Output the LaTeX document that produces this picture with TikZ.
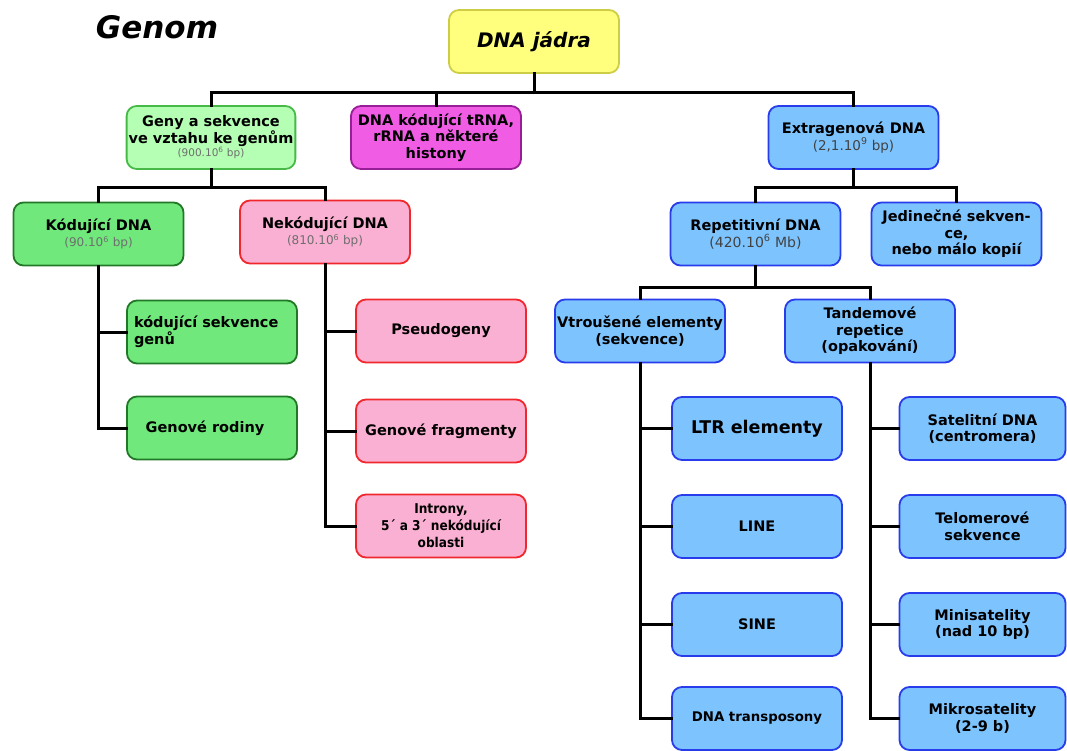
\documentclass[tikz,border=0pt]{standalone}
\usepackage{fontspec}
\setmainfont{DejaVu Sans}
\newfontfamily\uzke{DejaVu Sans Condensed}
\usepackage{tikz}
\usetikzlibrary{positioning, calc}
\definecolor{zlutaF}{RGB}{255,255,125}
\definecolor{zlutaD}{RGB}{205,205,70}
\definecolor{svzelF}{RGB}{180,255,180}
\definecolor{svzelD}{RGB}{70,185,70}
\definecolor{zelF}{RGB}{112,232,124}
\definecolor{zelD}{RGB}{35,120,40}
\definecolor{fialF}{RGB}{240,92,228}
\definecolor{fialD}{RGB}{150,30,150}
\definecolor{ruzF}{RGB}{250,176,210}
\definecolor{ruzD}{RGB}{240,40,45}
\definecolor{modF}{RGB}{125,196,255}
\definecolor{modD}{RGB}{40,60,235}
\definecolor{sedy}{RGB}{110,110,110}

\begin{document}
\begin{tikzpicture}[x=1pt,y=-1pt,
  box/.style={draw, rounded corners=10pt, line width=1.8pt, minimum width=170pt, minimum height=63pt, inner sep=2pt, align=center, font=\fontsize{14.5}{16.5}\selectfont\bfseries},
  zluta/.style={box, fill=zlutaF, draw=zlutaD},
  svzel/.style={box, fill=svzelF, draw=svzelD},
  zel/.style={box, fill=zelF, draw=zelD},
  fial/.style={box, fill=fialF, draw=fialD},
  ruz/.style={box, fill=ruzF, draw=ruzD},
  modr/.style={box, fill=modF, draw=modD},
  vetev/.style={line width=3pt, line cap=rect}]

\useasboundingbox (0,0) rectangle (1067,751);

\node[font=\fontsize{31}{34}\selectfont\bfseries\itshape] (genom) at (157,27) {Genom};

\node[zluta, font=\fontsize{20}{22}\selectfont\bfseries\itshape] (jadra) at (534,41.5) {DNA jádra};

\node[svzel, minimum width=166pt] (geny) at (211,137.5) {Geny a sekvence\\ve vztahu ke genům\\[-3pt]{\fontsize{10.5}{11}\selectfont\mdseries\color{sedy}(900.10\textsuperscript{6} bp)}};
\node[fial] (trna) at (436,137.5) {DNA kódující tRNA,\\rRNA a některé\\histony};
\node[modr] (extra) at (853.5,137.5) {Extragenová DNA\\{\fontsize{13.5}{15}\selectfont\mdseries\color{sedy!60!black}(2,1.10\textsuperscript{9} bp)}};

\node[zel] (kod) at (98.5,234) {Kódující DNA\\{\fontsize{12}{13}\selectfont\mdseries\color{sedy}(90.10\textsuperscript{6} bp)}};
\node[ruz] (nekod) at (325,232) {Nekódující DNA\\{\fontsize{12}{13}\selectfont\mdseries\color{sedy}(810.10\textsuperscript{6} bp)}};

\node[zel, align=left, text width=156pt] (sekv) at (212,332) {kódující sekvence\\genů};
\node[zel] (rodiny) at (212,428) {Genové rodiny\hspace*{14pt}};

\node[ruz] (pseudo) at (441,331) {Pseudogeny};
\node[ruz] (fragm) at (441,431) {Genové fragmenty};
\node[ruz, font=\uzke\fontsize{13.5}{17}\selectfont\bfseries] (intr) at (441,526) {Introny,\\5´ a 3´ nekódující\\oblasti};

\node[modr] (repet) at (755.5,234) {Repetitivní DNA\\{\fontsize{14}{15}\selectfont\mdseries\color{sedy!60!black}(420.10\textsuperscript{6} Mb)}};
\node[modr] (jedin) at (956.5,234) {Jedinečné sekven-\\ce,\\nebo málo kopií};

\node[modr] (vtrou) at (640,331) {Vtroušené elementy\\(sekvence)};
\node[modr] (tand) at (870,331) {Tandemové\\repetice\\(opakování)};

\node[modr, font=\fontsize{17.5}{19}\selectfont\bfseries] (ltr) at (757,428.5) {LTR elementy};
\node[modr, font=\fontsize{14.5}{16}\selectfont\bfseries] (line) at (757,526.5) {LINE};
\node[modr, font=\fontsize{14.5}{16}\selectfont\bfseries] (sine) at (757,624.5) {SINE};
\node[modr, font=\fontsize{13.3}{15}\selectfont\bfseries] (transp) at (757,718.5) {DNA transposony};

\node[modr, minimum width=166pt] (sat) at (982.5,428.5) {Satelitní DNA\\(centromera)};
\node[modr, minimum width=166pt] (telo) at (982.5,526.5) {Telomerové\\sekvence};
\node[modr, minimum width=166pt] (mini) at (982.5,624.5) {Minisatelity\\(nad 10 bp)};
\node[modr, minimum width=166pt] (mikro) at (982.5,718.5) {Mikrosatelity\\(2-9 b)};

\coordinate (bus1) at (0,93);
\coordinate (bus2) at (0,188);
\coordinate (bus3) at (0,287);

\draw[vetev] (jadra.south) -- (jadra.south |- bus1);
\draw[vetev] (geny.north) |- (extra.north |- bus1) -- (extra.north);
\draw[vetev] (trna.north) -- (trna.north |- bus1);

\draw[vetev] (geny.south) -- (geny.south |- bus2);
\draw[vetev] (kod.north) |- (nekod.north |- bus2) -- (nekod.north);

\draw[vetev] (extra.south) -- (extra.south |- bus2);
\draw[vetev] (repet.north) |- (jedin.north |- bus2) -- (jedin.north);

\draw[vetev] (repet.south) -- (repet.south |- bus3);
\draw[vetev] (vtrou.north) |- (tand.north |- bus3) -- (tand.north);

\draw[vetev] (kod.south) |- (rodiny.west);
\draw[vetev] (kod.south |- sekv.west) -- (sekv.west);

\draw[vetev] (nekod.south) |- (intr.west);
\foreach \n in {pseudo, fragm}
  \draw[vetev] (nekod.south |- \n.west) -- (\n.west);

\draw[vetev] (vtrou.south) |- (transp.west);
\foreach \n in {ltr, line, sine}
  \draw[vetev] (vtrou.south |- \n.west) -- (\n.west);

\draw[vetev] (tand.south) |- (mikro.west);
\foreach \n in {sat, telo, mini}
  \draw[vetev] (tand.south |- \n.west) -- (\n.west);

\end{tikzpicture}
\end{document}
